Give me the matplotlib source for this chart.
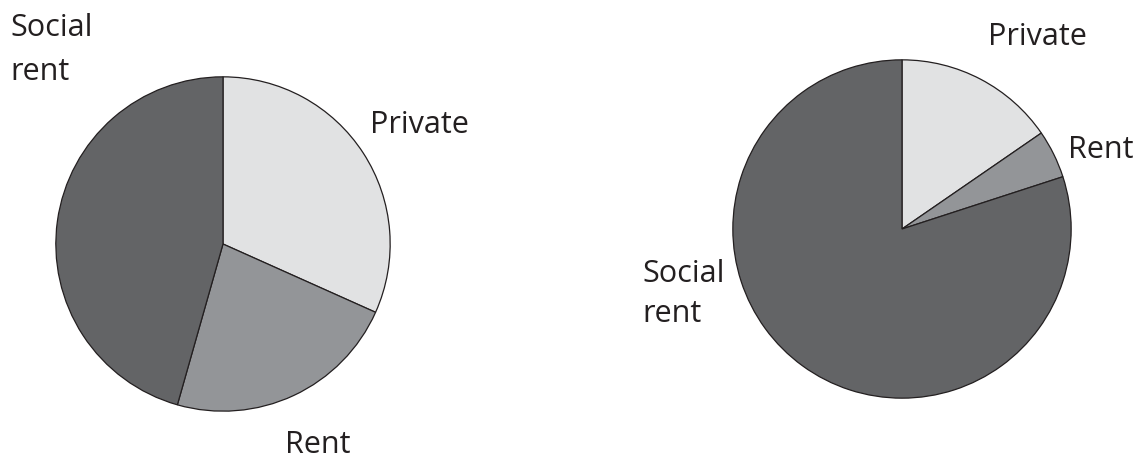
import matplotlib
matplotlib.use("Agg")
import matplotlib.pyplot as plt

# tenure shares, clockwise from 12 o'clock
labels = ["Private", "Rent", "Social rent"]
left_shares = [31.7, 22.7, 45.6]
right_shares = [15.4, 4.6, 80.0]
colors = ["#e1e2e3", "#939598", "#636466"]

W, H = 1140, 460
plt.rcParams["font.family"] = ["Open Sans", "DejaVu Sans"]

fig = plt.figure(figsize=(W / 100, H / 100), dpi=100)


def pie_axes(cx, cy, r):
    # place a square axes so the pie sits at pixel centre (cx, cy)
    ax = fig.add_axes([(cx - r) / W, (H - cy - r) / H, 2 * r / W, 2 * r / H])
    ax.axis("off")
    return ax


def draw(ax, shares):
    ax.pie(shares, colors=colors, startangle=90, counterclock=False,
           radius=1, frame=False,
           wedgeprops=dict(edgecolor="#231f20", linewidth=0.9))
    ax.set_xlim(-1.005, 1.005)
    ax.set_ylim(-1.005, 1.005)


def label(x, y, s):
    fig.text(x / W, 1 - y / H, s, fontsize=22, color="#231f20",
             ha="left", va="baseline")


draw(pie_axes(223, 245, 168), left_shares)
draw(pie_axes(902, 230, 170), right_shares)

label(10, 36, "Social")
label(10, 80, "rent")
label(370, 133, "Private")
label(285, 453, "Rent")

label(988, 45, "Private")
label(1068, 158, "Rent")
label(642, 282, "Social")
label(642, 322, "rent")

fig.savefig("out.png", dpi=100)
